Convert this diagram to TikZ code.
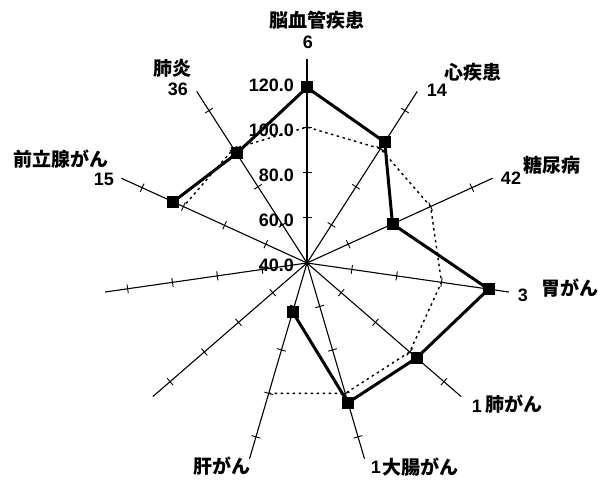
\documentclass[tikz,border=0pt]{standalone}
\usepackage{fontspec}
\setmainfont{Liberation Sans}
\newfontfamily\jpfont{Noto Sans CJK JP}
\usetikzlibrary{calc}
\begin{document}
\begin{tikzpicture}[x=1pt,y=1pt,
  axisline/.style={line width=1.1pt},
  tickmark/.style={line width=0.9pt},
  datamark/.style={rectangle,fill=black,minimum size=12pt,inner sep=0pt},
  dataline/.style={line width=3pt,line join=round},
  refline/.style={line width=1.4pt,dash pattern=on 2.5pt off 3.5pt},
  scalelbl/.style={font=\fontsize{18}{18}\selectfont\bfseries,inner sep=0pt,anchor=east},
  catlbl/.style={font=\jpfont\fontsize{19}{19}\selectfont\bfseries,inner sep=0pt},
  numlbl/.style={font=\fontsize{18}{18}\selectfont\bfseries,inner sep=0pt}]
\useasboundingbox (0,0) rectangle (598,486);
\coordinate (C) at (307,223);
% axes with ticks
\foreach \k in {0,...,10}{
  \pgfmathsetmacro\ang{90-\k*360/11}
  \coordinate (a\k) at ($(C)+(\ang:204)$);
  \draw[axisline] (C) -- (a\k);
  \foreach \r in {45.3,90.6,135.9,181.2}{
    \draw[tickmark] ($(C)+(\ang:\r)+(\ang+90:4.5)$) -- ($(C)+(\ang:\r)+(\ang-90:4.5)$);
  }
  \coordinate (r\k) at ($(C)+(\ang:135.9)$);
}
% data points
\foreach \k/\r in {0/175.5,1/143.8,2/94,3/183.5,4/145,5/145.6,6/51,9/147.2,10/130.2}{
  \pgfmathsetmacro\ang{90-\k*360/11}
  \coordinate (p\k) at ($(C)+(\ang:\r)$);
}
% reference (100) line
\draw[refline] (r6)--(r5)--(r4)--(r3)--(r2)--(r1)--(r0)--(r10)--(r9);
% data line
\draw[dataline] (p6)--(p5)--(p4)--(p3)--(p2)--(p1)--(p0)--(p10)--(p9);
\foreach \k in {0,1,2,3,4,5,6,9,10}{
  \node[datamark] (d\k) at (p\k) {};
}
% scale labels
\node[scalelbl] (s120) at (294,401) {120.0};
\node[scalelbl] (s100) at (294,356) {100.0};
\node[scalelbl] (s80) at (294,311) {80.0};
\node[scalelbl] (s60) at (294,266) {60.0};
\node[scalelbl] (s40) at (294,221) {40.0};
% category labels
\node[catlbl] (l0) at (317,466) {脳血管疾患};
\node[numlbl] (n0) at (308,444) {6};
\node[catlbl] (l1) at (473,414) {心疾患};
\node[numlbl] (n1) at (437,396) {14};
\node[catlbl] (l2) at (552,321) {糖尿病};
\node[numlbl] (n2) at (511,308) {42};
\node[catlbl] (l3) at (570,198) {胃がん};
\node[numlbl] (n3) at (523,191) {3};
\node[catlbl] (l4) at (514,82) {肺がん};
\node[numlbl] (n4) at (477,80) {1};
\node[catlbl] (l5) at (420,19) {大腸がん};
\node[numlbl] (n5) at (376,19) {1};
\node[catlbl] (l6) at (222,20) {肝がん};
\node[catlbl] (l10) at (172,418) {肺炎};
\node[numlbl] (n10) at (178,397) {36};
\node[catlbl] (l9) at (61,327) {前立腺がん};
\node[numlbl] (n9) at (104,307) {15};
\end{tikzpicture}
\end{document}
